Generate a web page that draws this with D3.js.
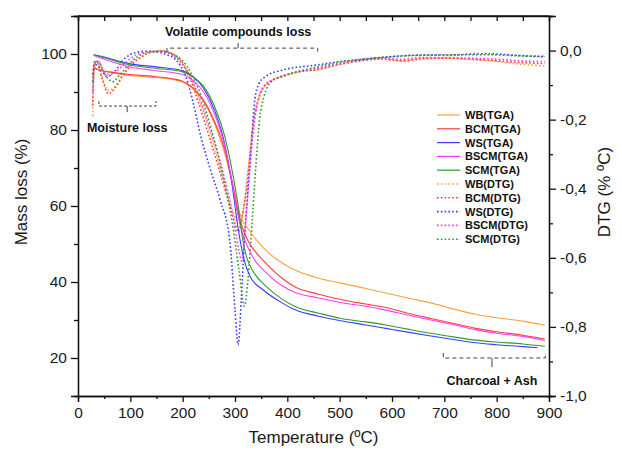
<!DOCTYPE html>
<html>
<head>
<meta charset="utf-8">
<script src="https://cdn.jsdelivr.net/npm/d3@7"></script>
<style>
  html, body { margin: 0; padding: 0; background: #ffffff; }
  svg { display: block; font-family: "Liberation Sans", Arial, sans-serif; }
</style>
</head>
<body>
<svg id="chart" width="622" height="456"></svg>
<script>
// ---------- DATA ----------
const seriesNames = ["WB", "BCM", "WS", "BSCM", "SCM"];
const seriesColors = ["#ffa040", "#ff3b3b", "#3b3bff", "#ff3bff", "#2f9a2f"];

// TGA mass loss (%) : [temperature, value]
const wbTGA = [[30,96.8],[40,95.8],[60,95.2],[100,94.3],[150,93.8],[180,93.3],[200,92.6],[220,90.8],[240,87.5],[260,82],[280,74],[295,66],[305,60],[315,56],[325,54],[340,51.2],[360,48.2],[390,45],[420,42.8],[460,41],[502,39.7],[550,38.3],[588,37.1],[630,35.8],[674,34.5],[720,32.8],[760,31.5],[800,30.6],[850,29.7],[892,28.6]];
const bcmTGA = [[30,96.3],[40,95.8],[60,95.3],[100,94.6],[150,94],[180,93.5],[200,92.8],[220,91],[240,87.8],[260,82.5],[280,75],[295,66],[305,59],[315,54],[325,50.8],[340,47.8],[360,44.8],[390,41],[416,38.6],[460,36.8],[502,35.4],[550,34.2],[588,33.3],[630,31.8],[674,30.4],[720,29],[760,27.8],[800,26.9],[850,26],[892,25]];
const wsTGA = [[30,99.8],[50,99.2],[75,98.2],[100,97.4],[150,96.6],[200,95.6],[220,94],[240,91],[260,85.5],[280,76.5],[295,65],[305,55],[316,46.6],[329,41.4],[354,37.9],[390,34.5],[416,32.6],[460,31],[502,29.8],[550,28.7],[588,27.8],[630,26.8],[674,25.8],[720,24.8],[760,24],[800,23.5],[850,23],[878,22.7]];
const bscmTGA = [[30,99.6],[50,98.6],[75,97.5],[100,96.6],[150,95.6],[200,94.6],[220,93],[240,90],[260,84.5],[280,76],[295,66],[305,58],[315,52.5],[325,49],[340,45.3],[360,42.4],[390,39],[416,37.2],[460,35.8],[502,34.6],[550,33.6],[588,32.6],[630,31.3],[674,30],[720,28.7],[760,27.4],[800,26.5],[850,25.7],[892,24.6]];
const scmTGA = [[30,99.8],[50,99],[75,98],[100,97.1],[150,96.2],[200,95.3],[220,94],[240,91.5],[260,86.5],[280,78.5],[295,69],[305,61],[315,51],[322,46.6],[335,42.7],[360,38.8],[390,35.5],[416,33.5],[460,31.8],[502,30.4],[550,29.5],[588,28.7],[630,27.6],[674,26.5],[720,25.5],[760,24.7],[800,24.2],[850,23.7],[892,23.1]];

// DTG (% / ºC) : [temperature, value]
const wbDTG = [[28,-0.19],[31,-0.05],[35,-0.03],[45,-0.07],[57,-0.115],[70,-0.105],[85,-0.07],[100,-0.04],[120,-0.018],[140,-0.004],[160,0.0],[180,-0.008],[195,-0.025],[210,-0.06],[230,-0.135],[250,-0.225],[270,-0.33],[290,-0.44],[303,-0.49],[311,-0.5],[318,-0.44],[326,-0.33],[334,-0.22],[345,-0.14],[360,-0.098],[390,-0.075],[420,-0.062],[460,-0.055],[500,-0.04],[540,-0.028],[580,-0.022],[620,-0.03],[660,-0.022],[700,-0.022],[750,-0.025],[800,-0.032],[850,-0.04],[892,-0.045]];
const bcmDTG = [[28,-0.16],[31,-0.04],[36,-0.035],[46,-0.08],[58,-0.125],[70,-0.11],[85,-0.075],[100,-0.045],[120,-0.02],[140,-0.005],[160,-0.002],[180,-0.01],[195,-0.03],[210,-0.068],[230,-0.15],[250,-0.245],[270,-0.345],[290,-0.45],[300,-0.5],[306,-0.525],[311,-0.5],[316,-0.46],[322,-0.4],[329,-0.3],[336,-0.2],[345,-0.14],[361,-0.095],[392,-0.074],[420,-0.062],[456,-0.055],[500,-0.04],[540,-0.03],[580,-0.025],[620,-0.03],[660,-0.024],[700,-0.022],[750,-0.025],[800,-0.03],[850,-0.035],[892,-0.038]];
const wsDTG = [[28,-0.07],[32,-0.04],[42,-0.05],[56,-0.075],[70,-0.06],[90,-0.022],[110,-0.006],[130,-0.002],[150,-0.004],[170,-0.012],[187,-0.027],[206,-0.076],[220,-0.15],[235,-0.25],[252,-0.34],[271,-0.43],[290,-0.55],[300,-0.75],[306,-0.852],[312,-0.72],[318,-0.55],[324,-0.42],[330,-0.3],[338,-0.14],[346,-0.095],[356,-0.078],[392,-0.056],[456,-0.042],[500,-0.032],[540,-0.026],[580,-0.02],[620,-0.015],[660,-0.013],[700,-0.013],[780,-0.009],[850,-0.015],[892,-0.017]];
const bscmDTG = [[28,-0.12],[32,-0.035],[38,-0.03],[48,-0.055],[60,-0.07],[75,-0.058],[95,-0.03],[115,-0.01],[140,-0.002],[165,-0.004],[185,-0.018],[205,-0.05],[225,-0.11],[250,-0.215],[275,-0.34],[295,-0.47],[307,-0.575],[313,-0.61],[319,-0.52],[326,-0.38],[334,-0.25],[342,-0.16],[355,-0.105],[380,-0.08],[420,-0.062],[460,-0.05],[500,-0.038],[540,-0.027],[580,-0.022],[620,-0.025],[660,-0.02],[700,-0.02],[750,-0.022],[800,-0.025],[850,-0.03],[892,-0.032]];
const scmDTG = [[28,-0.09],[32,-0.03],[40,-0.035],[52,-0.07],[66,-0.09],[80,-0.07],[100,-0.035],[120,-0.012],[140,-0.003],[160,-0.002],[180,-0.01],[200,-0.03],[215,-0.062],[235,-0.13],[255,-0.23],[275,-0.35],[295,-0.5],[308,-0.64],[318,-0.74],[325,-0.66],[333,-0.49],[340,-0.33],[347,-0.2],[355,-0.135],[370,-0.09],[400,-0.07],[450,-0.05],[500,-0.034],[550,-0.024],[600,-0.018],[650,-0.014],[700,-0.013],[780,-0.012],[850,-0.016],[892,-0.018]];

const tgaData = [wbTGA, bcmTGA, wsTGA, bscmTGA, scmTGA];
const dtgData = [wbDTG, bcmDTG, wsDTG, bscmDTG, scmDTG];

// Axis ticks
const xTicks = [0,100,200,300,400,500,600,700,800,900];
const xMinorTicks = [50,150,250,350,450,550,650,750,850];
const leftTicks = [20,40,60,80,100];
const leftMinorTicks = [30,50,70,90,110];
const rightTicks = [0,-0.2,-0.4,-0.6,-0.8,-1.0];
const rightTickLabels = ["0,0","-0,2","-0,4","-0,6","-0,8","-1,0"];
const rightMinorTicks = [0.1,-0.1,-0.3,-0.5,-0.7,-0.9];

// Annotations (data units)
const volatileBracket = {x0:170, x1:458, xm:306, y:0.007, yEnd:-0.004, yMid:0.022, label:"Volatile compounds loss"};
const moistureBracket = {x0:40, x1:149, xm:94, y:86.3, yEnd:87.6, yMid:84.7, label:"Moisture loss"};
const charcoalBracket = {x0:698, x1:893, xm:791, y:20.0, yEnd:21.3, yMid:17.6, label:"Charcoal + Ash"};

// ---------- CHART ----------
const svg = d3.select("#chart");
const L = 78, R = 549, T = 16, B = 396;

const x = d3.scaleLinear().domain([0, 900]).range([L, R]);
const yL = d3.scaleLinear().domain([10, 110]).range([B, T]);
const yR = d3.scaleLinear().domain([-1.0, 0.1]).range([B, T]);

svg.append("rect").attr("width", 622).attr("height", 456).attr("fill", "#ffffff");

const lineL = d3.line().x(d => x(d[0])).y(d => yL(d[1])).curve(d3.curveMonotoneX);
const lineR = d3.line().x(d => x(d[0])).y(d => yR(d[1])).curve(d3.curveMonotoneX);

const plot = svg.append("g");
// DTG dotted
dtgData.forEach((s, i) => {
  plot.append("path").attr("d", lineR(s)).attr("fill", "none")
    .attr("stroke", seriesColors[i]).attr("stroke-width", 1.6)
    .attr("stroke-dasharray", "1.6,2.2");
});
// TGA solid
tgaData.forEach((s, i) => {
  plot.append("path").attr("d", lineL(s)).attr("fill", "none")
    .attr("stroke", seriesColors[i]).attr("stroke-width", 1.1);
});

// Axes
const axisColor = "#111";
const tickFont = "15.5px";
function styleAxis(g) {
  g.select(".domain").attr("stroke", axisColor).attr("stroke-width", 1.3);
  g.selectAll(".tick line").attr("stroke", axisColor).attr("stroke-width", 1.3);
  g.selectAll("text").attr("fill", "#1a1a1a").style("font-size", tickFont)
    .style("font-family", '"Liberation Sans", Arial, sans-serif');
}

// bottom
const gx = svg.append("g").attr("transform", `translate(0,${B})`)
  .call(d3.axisBottom(x).tickValues(xTicks).tickSize(6).tickPadding(5).tickFormat(d3.format("d")));
styleAxis(gx);
const gxm = svg.append("g").attr("transform", `translate(0,${B})`)
  .call(d3.axisBottom(x).tickValues(xMinorTicks).tickSize(3).tickFormat(""));
styleAxis(gxm);
// top
const gt = svg.append("g").attr("transform", `translate(0,${T})`)
  .call(d3.axisBottom(x).tickValues(xTicks.concat(xMinorTicks)).tickSize(5).tickFormat(""));
styleAxis(gt);
// left
const gl = svg.append("g").attr("transform", `translate(${L},0)`)
  .call(d3.axisLeft(yL).tickValues(leftTicks).tickSize(7).tickPadding(4).tickFormat(d3.format("d")));
styleAxis(gl);
const glm = svg.append("g").attr("transform", `translate(${L},0)`)
  .call(d3.axisLeft(yL).tickValues(leftMinorTicks).tickSize(4).tickFormat(""));
styleAxis(glm);
// right
const gr = svg.append("g").attr("transform", `translate(${R},0)`)
  .call(d3.axisRight(yR).tickValues(rightTicks).tickSize(7).tickPadding(4)
    .tickFormat((d, i) => rightTickLabels[i]));
styleAxis(gr);
const grm = svg.append("g").attr("transform", `translate(${R},0)`)
  .call(d3.axisRight(yR).tickValues(rightMinorTicks).tickSize(4).tickFormat(""));
styleAxis(grm);
// top line
svg.append("line").attr("x1", L).attr("x2", R).attr("y1", T).attr("y2", T)
  .attr("stroke", axisColor).attr("stroke-width", 1.3);

// Axis titles
svg.append("text").attr("x", (L + R) / 2).attr("y", 443).attr("text-anchor", "middle")
  .style("font-size", "17px").attr("fill", "#1a1a1a").text("Temperature (ºC)");
svg.append("text").attr("transform", `translate(27,${(T + B) / 2 - 14}) rotate(-90)`)
  .attr("text-anchor", "middle").style("font-size", "17px").attr("fill", "#1a1a1a").text("Mass loss (%)");
svg.append("text").attr("transform", `translate(610,${(T + B) / 2 - 14}) rotate(-90)`)
  .attr("text-anchor", "middle").style("font-size", "17px").attr("fill", "#1a1a1a").text("DTG (% ºC)");

// Brackets
function bracket(b, ys, down, textY) {
  const pts = [[b.x0, b.yEnd], [b.x0, b.y], [b.x1, b.y], [b.x1, b.yEnd]];
  svg.append("path")
    .attr("d", d3.line().x(d => x(d[0])).y(d => ys(d[1]))(pts))
    .attr("fill", "none").attr("stroke", "#444").attr("stroke-width", 1)
    .attr("stroke-dasharray", down ? "4,3" : "3,2");
  svg.append("line").attr("x1", x(b.xm)).attr("x2", x(b.xm))
    .attr("y1", ys(b.y)).attr("y2", ys(b.yMid))
    .attr("stroke", "#444").attr("stroke-width", 1);
  svg.append("text").attr("x", x(b.xm)).attr("y", textY).attr("text-anchor", "middle")
    .style("font-size", "12.5px").style("font-weight", "bold").attr("fill", "#111").text(b.label);
}
bracket(volatileBracket, yR, true, 36);
bracket(moistureBracket, yL, false, 132);
bracket(charcoalBracket, yL, true, 385);

// Legend
const legendNames = seriesNames.map(n => n + "(TGA)").concat(seriesNames.map(n => n + "(DTG)"));
const lg = svg.append("g");
legendNames.forEach((name, i) => {
  const c = seriesColors[i % 5];
  const yy = 115 + i * 13.8;
  lg.append("line").attr("x1", 437).attr("x2", 460).attr("y1", yy).attr("y2", yy)
    .attr("stroke", c).attr("stroke-width", i < 5 ? 1.2 : 1.6)
    .attr("stroke-dasharray", i < 5 ? null : "1.6,2.2");
  lg.append("text").attr("x", 465).attr("y", yy + 4).style("font-size", "11px")
    .style("font-weight", "bold").attr("fill", "#111").text(name);
});
</script>
</body>
</html>
